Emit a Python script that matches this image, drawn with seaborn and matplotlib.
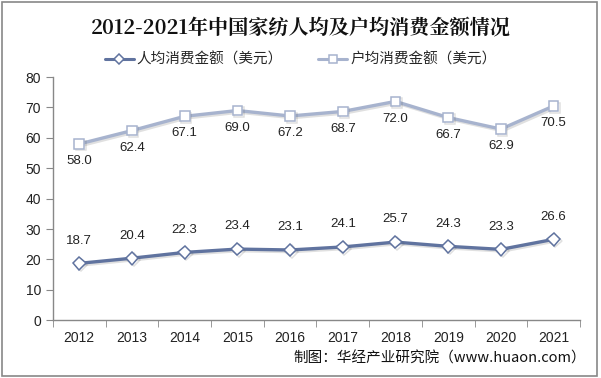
import matplotlib
matplotlib.use('Agg')
import matplotlib.pyplot as plt
import matplotlib.patheffects as pe
from matplotlib.patches import Rectangle
from matplotlib.ticker import FixedLocator
import seaborn as sns
import pandas as pd
import numpy as np

# data
years = ['2012', '2013', '2014', '2015', '2016', '2017', '2018', '2019', '2020', '2021']
per_person = [18.7, 20.4, 22.3, 23.4, 23.1, 24.1, 25.7, 24.3, 23.3, 26.6]
per_household = [58.0, 62.4, 67.1, 69.0, 67.2, 68.7, 72.0, 66.7, 62.9, 70.5]
label_person = '人均消费金额（美元）'
label_household = '户均消费金额（美元）'

sns.set_style('white')
plt.rcParams['font.family'] = ['Liberation Sans', 'Noto Sans CJK SC', 'DejaVu Sans']

df = pd.DataFrame({'year': years, 'person': per_person, 'household': per_household})

fig = plt.figure(figsize=(6.01, 3.78), dpi=100)
ax = fig.add_axes([0.088, 0.153, 0.877, 0.643])

shadow = [pe.SimpleLineShadow(offset=(1.2, -1.2), alpha=0.18, shadow_color='#555555'), pe.Normal()]

c_person = '#60739f'
c_house = '#a7b3ce'

sns.lineplot(data=df, x='year', y='person', ax=ax, color=c_person, lw=2.4,
             marker='D', markersize=6.5, markerfacecolor='white', markeredgecolor=c_person,
             markeredgewidth=1.1, label=label_person, path_effects=shadow)
sns.lineplot(data=df, x='year', y='household', ax=ax, color=c_house, lw=2.4,
             marker='s', markersize=7, markerfacecolor='white', markeredgecolor=c_house,
             markeredgewidth=1.1, label=label_household, path_effects=shadow)

for i, v in enumerate(per_person):
    ax.annotate(f'{v:.1f}', (i, v), xytext=(0, 12), textcoords='offset points',
                ha='center', va='bottom', fontsize=9.5, color='#222222')
for i, v in enumerate(per_household):
    ax.annotate(f'{v:.1f}', (i, v), xytext=(0, -8), textcoords='offset points',
                ha='center', va='top', fontsize=9.5, color='#222222')

ax.set_xlim(-0.5, 9.5)
ax.set_ylim(0, 80)
ax.set_yticks(range(0, 81, 10))
ax.set_xticks(range(len(years)))
ax.set_xticklabels(years)
ax.xaxis.set_minor_locator(FixedLocator(np.arange(-0.5, 10, 1)))
ax.tick_params(axis='x', which='major', length=0, labelsize=10, pad=8, labelcolor='#222222')
ax.tick_params(axis='x', which='minor', length=5, direction='out', color='#888888', bottom=True)
ax.tick_params(axis='y', length=5, direction='out', color='#888888', labelsize=10,
               labelcolor='#222222', left=True)
ax.set_xlabel('')
ax.set_ylabel('')
for s in ['top', 'right']:
    ax.spines[s].set_visible(False)
for s in ['left', 'bottom']:
    ax.spines[s].set_color('#888888')
    ax.spines[s].set_linewidth(1)

leg = ax.legend(loc='center', bbox_to_anchor=(0.5, 0.842), bbox_transform=fig.transFigure,
                ncol=2, frameon=False, handlelength=2.0, columnspacing=2.4,
                handletextpad=0.2, markerscale=0.75,
                prop={'family': ['Noto Sans CJK SC'], 'size': 10.5})
for h in leg.get_lines():
    h.set_path_effects([])
    h.set_linewidth(2.2)

fig.text(0.5, 0.925, '2012-2021年中国家纺人均及户均消费金额情况', ha='center', va='center',
         fontsize=14.5, fontweight='bold', family=['Noto Serif CJK SC', 'Noto Sans CJK SC'],
         color='#111111')
fig.text(0.975, 0.052, '制图：华经产业研究院（www.huaon.com）', ha='right', va='center',
         fontsize=10.5, family=['Noto Sans CJK SC'], color='#111111')

fig.patches.append(Rectangle((0.004, 0.005), 0.99, 0.99, transform=fig.transFigure,
                             fill=False, edgecolor='#888888', lw=1.2))

fig.savefig('out.png', dpi=100)
